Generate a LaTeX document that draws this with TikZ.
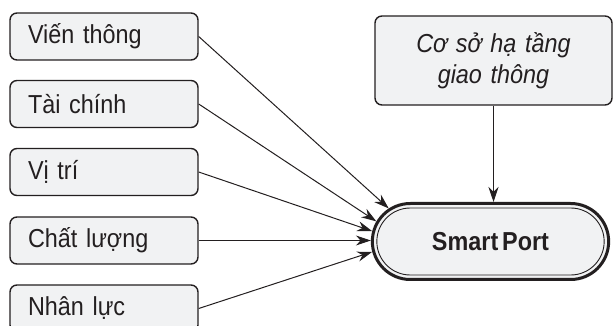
\documentclass[tikz,border=0pt]{standalone}
\usepackage{fontspec}
\setmainfont{Liberation Sans}[FakeStretch=0.9, WordSpace=0.6]
\usetikzlibrary{shapes.misc, arrows.meta}
\definecolor{boxfill}{HTML}{F1F2F3}
\definecolor{ink}{HTML}{231F20}
\tikzstyle{factor}=[draw=ink, fill=boxfill, line width=1.4pt, rounded corners=7pt,
    minimum width=188pt, minimum height=47pt, text width=152pt, align=left,
    font=\fontsize{26}{30}\selectfont, text=ink, inner sep=0pt]
\tikzstyle{link}=[ink, line width=1pt, -{Stealth[length=15pt, width=10pt]}]

\begin{document}
\begin{tikzpicture}[x=1pt, y=-1pt]
\clip (0,0) rectangle (614,326);
% Factors
    \node[factor] (vt) at (104,36.5) {Viến thông};
    \node[factor] (tc) at (104,104) {Tài chính};
    \node[factor] (vi) at (104,172) {Vị trí};
    \node[factor] (cl) at (104,240.5) {Chất lượng};
    \node[factor] (nl) at (104,308.5) {Nhân lực};
% Infrastructure
    \node[factor, minimum width=237pt, minimum height=89pt, text width=220pt, align=center,
        font=\fontsize{26}{31}\selectfont\itshape] (ht) at (493.5,60.5) {Cơ sở hạ tầng\\giao thông};
% Smart Port
    \node[rounded rectangle, draw=ink, fill=boxfill, line width=3pt, minimum width=243pt,
        minimum height=76pt, text=ink, font=\fontsize{26}{30}\selectfont\bfseries] (sp) at (490.5,241.5) {Smart Port};
    \node[rounded rectangle, draw=ink, line width=0.9pt, minimum width=234pt,
        minimum height=67pt] (spin) at (sp.center) {};
% Links
    \draw[link] (vt.east) -- (sp.162);
    \draw[link] (tc.east) -- (sp.170);
    \draw[link] (vi.east) -- (sp.175);
    \draw[link] (cl.east) -- (sp.west |- cl.east);
    \draw[link] (nl.east) -- (sp.185);
    \draw[link] (ht.south) -- (ht.south |- sp.north);
\end{tikzpicture}
\end{document}
